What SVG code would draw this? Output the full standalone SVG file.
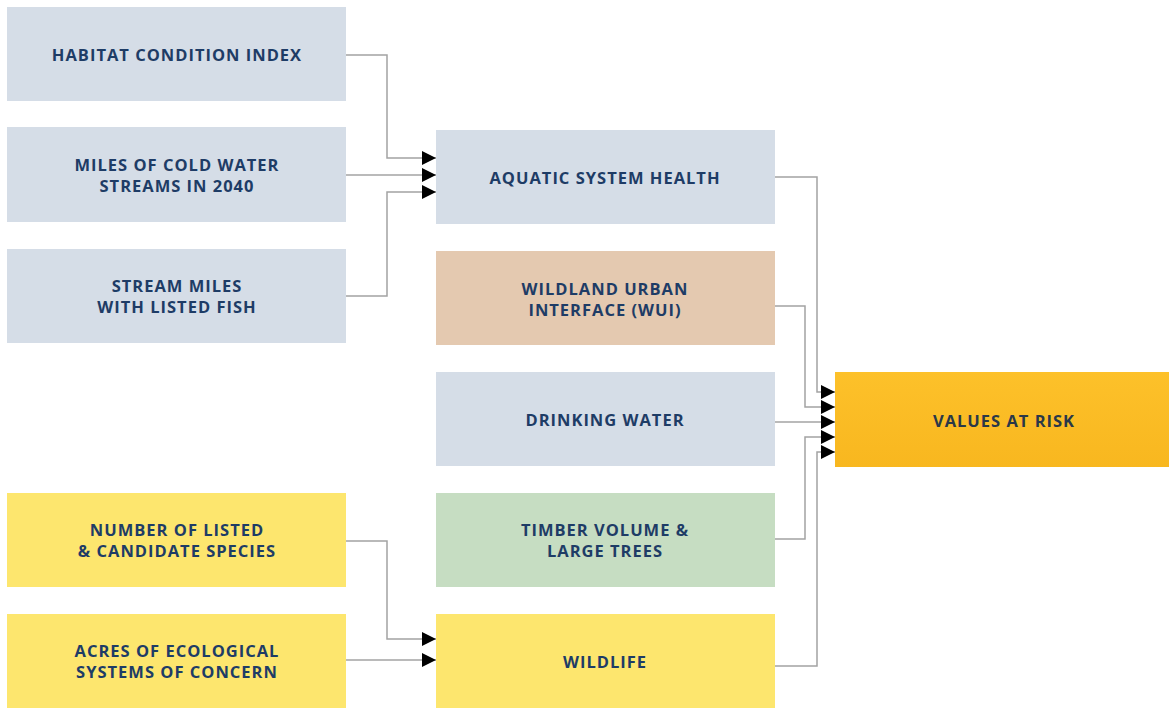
<svg xmlns="http://www.w3.org/2000/svg" width="1169" height="708" viewBox="0 0 1169 708">
<defs>
<marker id="arr" markerWidth="16" markerHeight="16" refX="14" refY="7" orient="auto" markerUnits="userSpaceOnUse">
<path d="M0,0 L14,7 L0,14 Z" fill="#000"/>
</marker>
<linearGradient id="og" x1="0" y1="0" x2="0" y2="1">
<stop offset="0" stop-color="#fdc12a"/>
<stop offset="1" stop-color="#f8b71f"/>
</linearGradient>
<style>
.blue{fill:#d5dde7}
.tan{fill:#e4c9b0}
.green{fill:#c6ddc2}
.yel{fill:#fde66e}
.t{font-family:"Open Sans","Noto Sans","Liberation Sans",sans-serif;font-weight:700;font-size:16.5px;fill:#1e3c66;text-anchor:middle;letter-spacing:1px}
.dk{fill:#2a3848}
.c{fill:none;stroke:#a3a3a3;stroke-width:1.5}
</style>
</defs>
<rect width="1169" height="708" fill="#fff"/>
<g id="connectors">
<path class="c" d="M346,55 H387 V158 H436" marker-end="url(#arr)"/>
<path class="c" d="M346,175 H436" marker-end="url(#arr)"/>
<path class="c" d="M346,296 H387 V192 H436" marker-end="url(#arr)"/>
<path class="c" d="M346,541 H387 V639 H436" marker-end="url(#arr)"/>
<path class="c" d="M346,660 H436" marker-end="url(#arr)"/>
<path class="c" d="M775,177 H817 V392 H835" marker-end="url(#arr)"/>
<path class="c" d="M775,306 H805 V407 H835" marker-end="url(#arr)"/>
<path class="c" d="M775,422 H835" marker-end="url(#arr)"/>
<path class="c" d="M775,539 H805 V437 H835" marker-end="url(#arr)"/>
<path class="c" d="M775,666 H817 V452 H835" marker-end="url(#arr)"/>
</g>
<g id="habitat"><rect class="blue" x="7" y="7" width="339" height="94"/><text class="t" x="177" y="61">HABITAT CONDITION INDEX</text></g>
<g id="coldwater"><rect class="blue" x="7" y="127" width="339" height="95"/><text class="t" x="177" y="171">MILES OF COLD WATER</text><text class="t" x="177" y="192">STREAMS IN 2040</text></g>
<g id="streammiles"><rect class="blue" x="7" y="249" width="339" height="94"/><text class="t" x="177" y="292">STREAM MILES</text><text class="t" x="177" y="313">WITH LISTED FISH</text></g>
<g id="species"><rect class="yel" x="7" y="493" width="339" height="94"/><text class="t" x="177" y="536">NUMBER OF LISTED</text><text class="t" x="177" y="557">&amp; CANDIDATE SPECIES</text></g>
<g id="ecosystems"><rect class="yel" x="7" y="614" width="339" height="94"/><text class="t" x="177" y="657">ACRES OF ECOLOGICAL</text><text class="t" x="177" y="678">SYSTEMS OF CONCERN</text></g>
<g id="aquatic"><rect class="blue" x="436" y="130" width="339" height="94"/><text class="t" x="605" y="184">AQUATIC SYSTEM HEALTH</text></g>
<g id="wui"><rect class="tan" x="436" y="251" width="339" height="94"/><text class="t" x="605" y="295">WILDLAND URBAN</text><text class="t" x="605" y="316">INTERFACE (WUI)</text></g>
<g id="drinking"><rect class="blue" x="436" y="372" width="339" height="94"/><text class="t" x="605" y="426">DRINKING WATER</text></g>
<g id="timber"><rect class="green" x="436" y="493" width="339" height="94"/><text class="t" x="605" y="536">TIMBER VOLUME &amp;</text><text class="t" x="605" y="557">LARGE TREES</text></g>
<g id="wildlife"><rect class="yel" x="436" y="614" width="339" height="94"/><text class="t" x="605" y="668">WILDLIFE</text></g>
<g id="values"><rect fill="url(#og)" x="835" y="372" width="334" height="95"/><text class="t dk" x="1004" y="427">VALUES AT RISK</text></g>
</svg>
